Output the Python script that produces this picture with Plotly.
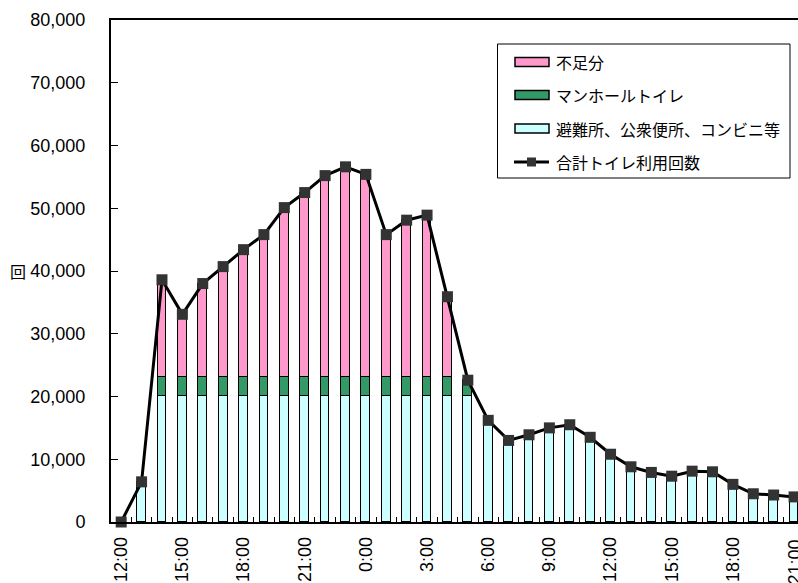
import plotly.graph_objects as go

# Hourly time labels: 12:00 on day 1 through 21:00 on day 2
hours = ["12:00", "13:00", "14:00", "15:00", "16:00", "17:00", "18:00", "19:00",
         "20:00", "21:00", "22:00", "23:00", "0:00", "1:00", "2:00", "3:00",
         "4:00", "5:00", "6:00", "7:00", "8:00", "9:00", "10:00", "11:00",
         "12:00", "13:00", "14:00", "15:00", "16:00", "17:00", "18:00", "19:00",
         "20:00", "21:00"]

# Toilet uses covered by shelters, public toilets and convenience stores
shelter = [0, 6400, 20100, 20100, 20100, 20100, 20100, 20100, 20100, 20100,
           20100, 20100, 20100, 20100, 20100, 20100, 20100, 20100, 16200, 13000,
           13900, 15000, 15500, 13500, 10800, 8800, 7900, 7300, 8100, 8000,
           6000, 4500, 4300, 4000]

# Uses covered by manhole toilets
manhole = [0, 0, 3000, 3000, 3000, 3000, 3000, 3000, 3000, 3000,
           3000, 3000, 3000, 3000, 3000, 3000, 3000, 2500, 0, 0,
           0, 0, 0, 0, 0, 0, 0, 0, 0, 0,
           0, 0, 0, 0]

# Shortfall
shortage = [0, 0, 15500, 10000, 14900, 17600, 20300, 22700, 27000, 29400,
            32100, 33500, 32300, 22700, 25000, 25800, 12800, 0, 0, 0,
            0, 0, 0, 0, 0, 0, 0, 0, 0, 0,
            0, 0, 0, 0]

# Total toilet uses per hour
total = [0, 6400, 38600, 33100, 38000, 40700, 43400, 45800, 50100, 52500,
         55200, 56600, 55400, 45800, 48100, 48900, 35900, 22600, 16200, 13000,
         13900, 15000, 15500, 13500, 10800, 8800, 7900, 7300, 8100, 8000,
         6000, 4500, 4300, 4000]

y_ticks = [0, 10000, 20000, 30000, 40000, 50000, 60000, 70000, 80000]

names = ["不足分", "マンホールトイレ", "避難所、公衆便所、コンビニ等", "合計トイレ利用回数"]
c_short, c_man, c_shel = "#FF99CC", "#339966", "#CCFFFF"
c_mark = "#333333"

x = list(range(len(hours)))
W, H = 798, 583
L, T, B = 111, 20, 61
PW, PH = W - L, H - T - B
CAT = 20.39  # pixels per hourly category


def px(v):
    return (v - L) / PW


def py(v):
    return (H - B - v) / PH


bar_kw = dict(width=0.43, marker_line=dict(color="black", width=1), showlegend=False)

fig = go.Figure()
fig.add_trace(go.Bar(x=x, y=shelter, name=names[2], marker_color=c_shel, **bar_kw))
fig.add_trace(go.Bar(x=x, y=manhole, name=names[1], marker_color=c_man, **bar_kw))
fig.add_trace(go.Bar(x=x, y=shortage, name=names[0], marker_color=c_short, **bar_kw))
fig.add_trace(go.Scatter(
    x=x, y=total, name=names[3], mode="lines+markers",
    line=dict(color="black", width=3),
    marker=dict(symbol="square", size=11, color=c_mark),
    cliponaxis=False, showlegend=False,
))

font_num = "Liberation Sans, Arial, Noto Sans CJK JP, sans-serif"
font_jp = "Noto Sans CJK JP, sans-serif"

fig.update_layout(
    width=W, height=H,
    margin=dict(l=L, r=0, t=T, b=B, pad=0, autoexpand=False),
    barmode="stack",
    plot_bgcolor="white", paper_bgcolor="white",
    font=dict(family=font_num, size=18, color="black"),
    bargap=0,
)

tick_idx = x[::3]
fig.update_xaxes(
    range=[-0.5, -0.5 + PW / CAT],
    tickmode="array",
    tickvals=tick_idx[:-1],
    ticktext=[hours[i] for i in tick_idx[:-1]],
    tickangle=-90,
    ticks="",
    automargin=False,
    showline=True, linecolor="black", linewidth=1.5, mirror=True,
    showgrid=False, zeroline=False,
    tickfont=dict(size=18),
    minor=dict(tickmode="array", tickvals=[i + 0.5 for i in x],
               ticks="inside", ticklen=5, tickcolor="black", tickwidth=1),
    ticklabelstandoff=6,
)

# Last time label sits at the right edge of the figure
last = tick_idx[-1]
fig.add_annotation(text=hours[last], xref="x", yref="paper", x=last, y=py(538),
                   showarrow=False, textangle=-90, xanchor="center", yanchor="top",
                   font=dict(family=font_num, size=18))

fig.update_yaxes(
    range=[0, 80000],
    tickmode="array",
    tickvals=y_ticks,
    ticktext=[f"{v:,}" for v in y_ticks],
    ticks="inside", ticklen=7, tickcolor="black", tickwidth=1,
    showline=True, linecolor="black", linewidth=2,
    showgrid=False, zeroline=False,
    automargin=False,
    tickfont=dict(size=18),
    ticklabelstandoff=20,
)

# Axis title
fig.add_annotation(text="回", xref="paper", yref="paper", x=px(18), y=py(271),
                   showarrow=False, font=dict(family=font_jp, size=16),
                   xanchor="center", yanchor="middle")

# Legend box
shapes = [dict(type="rect", xref="paper", yref="paper",
               x0=px(497.5), x1=px(790), y0=py(44), y1=py(178),
               line=dict(color="black", width=1), fillcolor="white", layer="above")]
rows = [(62, c_short, names[0]), (95, c_man, names[1]), (128.5, c_shel, names[2])]
for ry, col, label in rows:
    shapes.append(dict(type="rect", xref="paper", yref="paper",
                       x0=px(515), x1=px(549), y0=py(ry - 4.5), y1=py(ry + 4.5),
                       line=dict(color="black", width=1.5), fillcolor=col, layer="above"))
    fig.add_annotation(text=label, xref="paper", yref="paper", x=px(554), y=py(ry),
                       showarrow=False, xanchor="left", yanchor="middle",
                       font=dict(family=font_jp, size=16))
ly = 162
shapes.append(dict(type="line", xref="paper", yref="paper",
                   x0=px(514), x1=px(549), y0=py(ly), y1=py(ly),
                   line=dict(color="black", width=3), layer="above"))
shapes.append(dict(type="rect", xref="paper", yref="paper",
                   x0=px(527), x1=px(536), y0=py(ly - 4.5), y1=py(ly + 4.5),
                   line=dict(width=0), fillcolor=c_mark, layer="above"))
fig.add_annotation(text=names[3], xref="paper", yref="paper", x=px(554), y=py(ly),
                   showarrow=False, xanchor="left", yanchor="middle",
                   font=dict(family=font_jp, size=16))
fig.update_layout(shapes=shapes)

fig.write_html("out.html")
